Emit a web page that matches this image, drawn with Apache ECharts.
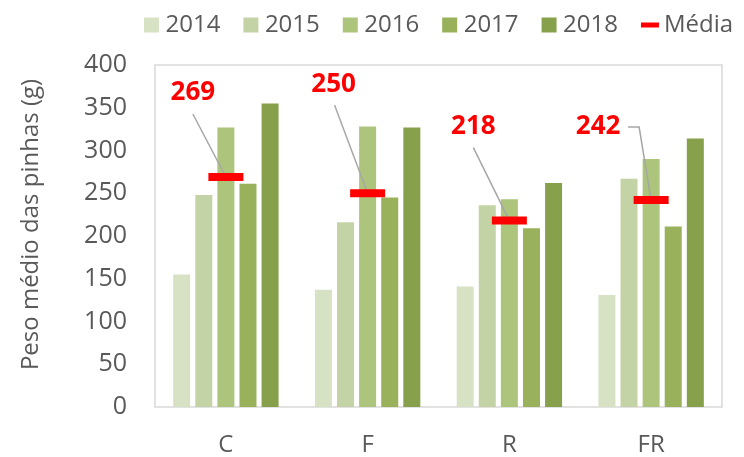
<!DOCTYPE html>
<html>
<head>
<meta charset="utf-8">
<script src="https://cdn.jsdelivr.net/npm/echarts@6/dist/echarts.min.js"></script>
<style>html,body{margin:0;padding:0;background:#fff}#c{width:744px;height:457px}</style>
</head>
<body>
<div id="c"></div>
<script>
// ---- data ----
const categories = ['C', 'F', 'R', 'FR'];
const years = ['2014', '2015', '2016', '2017', '2018'];
const v2014 = [155, 137, 141, 131];
const v2015 = [248, 216, 236, 267];
const v2016 = [327, 328, 243, 290];
const v2017 = [261, 245, 209, 211];
const v2018 = [355, 327, 262, 314];
const media = [269, 250, 218, 242];
const yTicks = [0, 50, 100, 150, 200, 250, 300, 350, 400];

// ---- styles / layout ----
const yearColors = ['#d7e2c5', '#c4d3a5', '#adc47c', '#98b15a', '#86a04c'];
const textColor = '#595959';
const font = 'Open Sans';
// callout offsets (pixels relative to the marker centre): label centre, leader-line points
const callouts = [
  { lx: -33, ly: -84, pts: [[-33, -63]] },
  { lx: -34, ly: -109, pts: [[-33, -88]] },
  { lx: -36, ly: -94, pts: [[-36, -73]] },
  { lx: -53, ly: -73, pts: [[-23, -73], [-12, -73]] }
];

const yearSeries = [v2014, v2015, v2016, v2017, v2018].map((vals, i) => ({
  name: years[i],
  type: 'bar',
  data: vals,
  barWidth: 17,
  barGap: '30%',
  itemStyle: { color: yearColors[i] },
  emphasis: { disabled: true }
}));

const chart = echarts.init(document.getElementById('c'), null, { renderer: 'canvas' });
chart.setOption({
  animation: false,
  textStyle: { fontFamily: font },
  grid: { left: 155, top: 65, right: 22, bottom: 47, show: true, borderColor: '#d9d9d9', borderWidth: 1.5, backgroundColor: 'transparent' },
  legend: {
    left: 139, top: 8,
    itemWidth: 18, itemHeight: 15, itemGap: 23,
    textStyle: { fontSize: 24, color: textColor, fontFamily: font },
    data: years.map((y, i) => ({ name: y, icon: 'path://M0,0h10v10h-10z' }))
      .concat([{ name: 'Média', icon: 'path://M0,0h18v5h-18z' }])
  },
  xAxis: {
    type: 'category',
    data: categories,
    axisLine: { show: false },
    axisTick: { show: false },
    axisLabel: { fontSize: 24, color: textColor, margin: 26, fontFamily: font }
  },
  yAxis: {
    type: 'value',
    min: yTicks[0], max: yTicks[yTicks.length - 1], interval: yTicks[1] - yTicks[0],
    splitLine: { show: false },
    axisLine: { show: false },
    axisTick: { show: false },
    axisLabel: { fontSize: 25, color: textColor, margin: 28, fontFamily: font },
    name: 'Peso médio das pinhas (g)',
    nameLocation: 'middle',
    nameGap: 112,
    nameTextStyle: { fontSize: 24, color: textColor, fontFamily: font, padding: [0, 0, 0, 23] }
  },
  series: yearSeries.concat([
    {
      name: 'Média',
      type: 'scatter',
      data: media,
      symbol: 'rect',
      symbolSize: [35, 8],
      itemStyle: { color: '#ff0000', opacity: 1 },
      z: 5,
      emphasis: { disabled: true }
    },
    {
      name: 'MédiaLabels',
      type: 'custom',
      data: media.map((m, i) => [i, m]),
      encode: { x: 0, y: 1 },
      z: 4,
      clip: false,
      renderItem: function (params, api) {
        const p = api.coord([api.value(0), api.value(1)]);
        const c = callouts[params.dataIndex];
        const pts = c.pts.map(q => [p[0] + q[0], p[1] + q[1]]).concat([p]);
        return {
          type: 'group',
          children: [
            { type: 'polyline', shape: { points: pts }, style: { stroke: '#a6a6a6', lineWidth: 1.5, fill: null } },
            { type: 'text', style: { x: p[0] + c.lx, y: p[1] + c.ly, text: String(api.value(1)), fill: '#ff0000', font: 'bold 26px "Open Sans"', align: 'center', verticalAlign: 'middle' } }
          ]
        };
      }
    }
  ])
});
</script>
</body>
</html>
